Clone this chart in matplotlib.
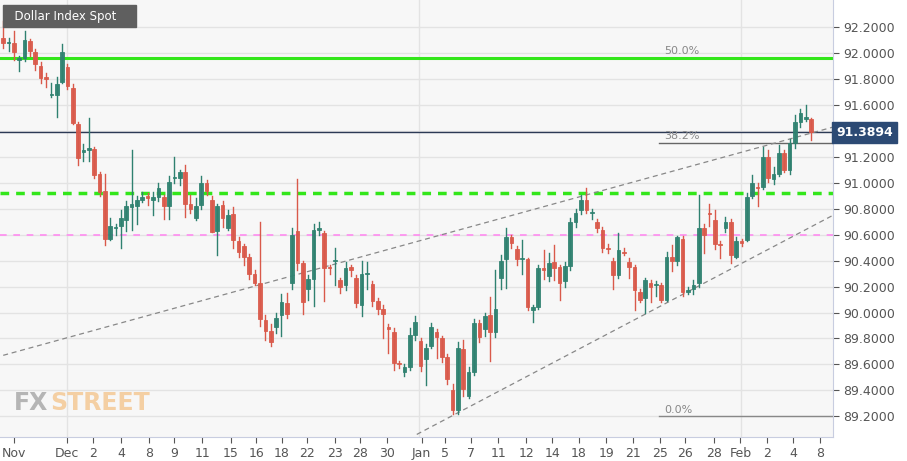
import matplotlib.pyplot as plt
import numpy as np
from matplotlib.patches import Rectangle

# OHLC candles
opens = [92.12, 92.08, 92.08, 91.95, 91.96, 92.09, 92.01, 91.90, 91.82, 91.68,
         91.68, 91.78, 91.89, 91.73, 91.45, 91.24, 91.25, 91.26, 91.07, 90.94,
         90.57, 90.65, 90.67, 90.71, 90.81, 90.82, 90.87, 90.90, 90.87, 90.89,
         90.89, 90.82, 91.04, 91.04, 91.08, 90.84, 90.73, 90.83, 91.00, 90.87,
         90.63, 90.83, 90.65, 90.76, 90.55, 90.51, 90.43, 90.30, 90.23, 89.94,
         89.86, 89.89, 89.98, 90.07, 90.23, 90.63, 90.38, 90.18, 90.26, 90.64,
         90.61, 90.35, 90.40, 90.25, 90.21, 90.35, 90.27, 90.06, 90.30, 90.22,
         90.09, 90.03, 89.89, 89.85, 89.61, 89.54, 89.58, 89.83, 89.78, 89.64,
         89.74, 89.85, 89.80, 89.66, 89.40, 89.25, 89.72, 89.36, 89.54, 89.92,
         89.87, 89.98, 89.85, 90.27, 90.41, 90.58, 90.49, 90.41, 90.41, 90.02,
         90.04, 90.34, 90.28, 90.39, 90.35, 90.24, 90.36, 90.70, 90.79, 90.87,
         90.77, 90.70, 90.64, 90.50, 90.40, 90.29, 90.47, 90.39, 90.35, 90.16,
         90.11, 90.23, 90.21, 90.21, 90.10, 90.43, 90.40, 90.57, 90.16, 90.18,
         90.23, 90.65, 90.77, 90.71, 90.53, 90.65, 90.70, 90.43, 90.55, 90.56,
         90.90, 90.97, 90.97, 91.20, 91.03, 91.07, 91.23, 91.10, 91.31, 91.47,
         91.49, 91.49]
closes = [92.08, 92.08, 92.01, 91.96, 92.10, 92.02, 91.92, 91.81, 91.80, 91.68,
          91.76, 92.01, 91.75, 91.46, 91.19, 91.25, 91.27, 91.06, 90.93, 90.57,
          90.67, 90.65, 90.73, 90.82, 90.84, 90.87, 90.89, 90.88, 90.89, 90.96,
          90.82, 91.01, 91.04, 91.08, 90.84, 90.80, 90.82, 91.00, 90.94, 90.62,
          90.82, 90.73, 90.75, 90.56, 90.47, 90.43, 90.30, 90.23, 89.95, 89.86,
          89.77, 89.96, 90.08, 89.99, 90.60, 90.38, 90.08, 90.26, 90.64, 90.64,
          90.34, 90.34, 90.40, 90.20, 90.34, 90.33, 90.07, 90.30, 90.30, 90.09,
          90.03, 89.99, 89.87, 89.61, 89.60, 89.58, 89.83, 89.93, 89.59, 89.73,
          89.89, 89.81, 89.66, 89.49, 89.25, 89.73, 89.41, 89.54, 89.92, 89.81,
          89.97, 89.85, 90.03, 90.40, 90.58, 90.54, 90.41, 90.41, 90.04, 90.04,
          90.34, 90.33, 90.38, 90.34, 90.23, 90.36, 90.70, 90.77, 90.87, 90.79,
          90.77, 90.65, 90.50, 90.49, 90.29, 90.48, 90.46, 90.35, 90.17, 90.10,
          90.25, 90.20, 90.21, 90.10, 90.43, 90.40, 90.58, 90.16, 90.17, 90.21,
          90.65, 90.60, 90.76, 90.53, 90.52, 90.70, 90.44, 90.55, 90.54, 90.89,
          91.00, 90.96, 91.20, 91.04, 91.07, 91.23, 91.10, 91.31, 91.47, 91.54,
          91.51, 91.3894]
highs = [92.25, 92.12, 92.17, 91.98, 92.17, 92.11, 92.03, 91.93, 91.85, 91.77,
         91.82, 92.07, 91.92, 91.76, 91.47, 91.30, 91.50, 91.28, 91.08, 91.07,
         90.73, 90.68, 90.79, 90.86, 91.25, 90.90, 90.93, 90.92, 90.93, 91.00,
         90.91, 91.05, 91.20, 91.10, 91.14, 90.91, 90.88, 91.05, 91.02, 90.90,
         90.84, 90.86, 90.79, 90.81, 90.58, 90.53, 90.45, 90.33, 90.70, 89.98,
         89.91, 90.00, 90.14, 90.15, 90.65, 91.03, 90.40, 90.29, 90.68, 90.70,
         90.63, 90.37, 90.50, 90.27, 90.39, 90.37, 90.29, 90.40, 90.39, 90.24,
         90.11, 90.06, 89.91, 89.88, 89.63, 89.60, 89.88, 89.97, 89.80, 89.76,
         89.92, 89.87, 89.82, 89.68, 89.45, 89.77, 89.79, 89.58, 89.95, 89.94,
         90.00, 90.12, 90.33, 90.44, 90.65, 90.60, 90.51, 90.56, 90.42, 90.06,
         90.37, 90.48, 90.46, 90.52, 90.37, 90.39, 90.73, 90.80, 90.91, 90.96,
         90.80, 90.72, 90.66, 90.53, 90.42, 90.61, 90.50, 90.42, 90.37, 90.18,
         90.27, 90.25, 90.24, 90.23, 90.47, 90.52, 90.59, 90.59, 90.20, 90.25,
         90.91, 90.68, 90.84, 90.79, 90.55, 90.74, 90.72, 90.58, 90.57, 90.92,
         91.06, 91.00, 91.28, 91.25, 91.12, 91.29, 91.25, 91.34, 91.52, 91.57,
         91.60, 91.50]
lows = [92.04, 92.02, 91.95, 91.86, 91.94, 91.98, 91.87, 91.77, 91.74, 91.66,
        91.51, 91.77, 91.72, 91.45, 91.14, 91.17, 91.17, 91.04, 90.90, 90.52,
        90.56, 90.60, 90.50, 90.63, 90.64, 90.68, 90.85, 90.83, 90.75, 90.86,
        90.72, 90.72, 91.00, 90.98, 90.74, 90.77, 90.71, 90.80, 90.91, 90.62,
        90.44, 90.66, 90.64, 90.50, 90.43, 90.37, 90.26, 90.21, 89.90, 89.79,
        89.74, 89.84, 89.82, 89.96, 90.18, 90.33, 89.99, 90.10, 90.05, 90.60,
        90.09, 90.30, 90.21, 90.15, 90.17, 90.28, 90.04, 89.97, 90.18, 90.05,
        89.99, 89.80, 89.69, 89.56, 89.57, 89.51, 89.56, 89.79, 89.55, 89.44,
        89.73, 89.65, 89.62, 89.45, 89.22, 89.22, 89.36, 89.34, 89.52, 89.77,
        89.82, 89.63, 89.81, 90.18, 90.19, 90.50, 90.37, 90.30, 90.02, 89.93,
        90.03, 90.26, 90.24, 90.25, 90.10, 90.20, 90.33, 90.66, 90.76, 90.77,
        90.72, 90.62, 90.47, 90.46, 90.18, 90.27, 90.44, 90.27, 90.02, 90.08,
        90.00, 90.08, 90.13, 90.08, 90.09, 90.32, 90.37, 90.13, 90.14, 90.14,
        90.20, 90.46, 90.67, 90.49, 90.42, 90.62, 90.38, 90.42, 90.51, 90.55,
        90.88, 90.82, 90.95, 91.01, 90.99, 91.05, 91.08, 91.07, 91.27, 91.43,
        91.48, 91.33]

tick_pos = [2, 12, 16.8, 22, 27.2, 32, 37.2, 42.5, 47.3, 52.1, 56.8, 62, 66.7, 71.7,
            78.2, 82.5, 87.5, 92.5, 97.8, 102.6, 107.6, 112.7, 117.7, 122.7, 127.4,
            132.8, 137.8, 142.8, 147.7, 152.7]
tick_labels = ["Nov", "Dec", "2", "4", "8", "9", "11", "15", "16", "18", "22", "23",
               "28", "30", "Jan", "5", "7", "11", "12", "14", "18", "19", "21", "25",
               "26", "28", "Feb", "2", "4", "8"]
month_lines = [11.9, 77.8, 137.9]
y_ticks = [89.2, 89.4, 89.6, 89.8, 90.0, 90.2, 90.4, 90.6, 90.8, 91.0,
           91.2, 91.4, 91.6, 91.8, 92.0, 92.2]

level_green = 91.965
level_green_dash = 90.92
level_pink = 90.595
fib_382 = 91.31
fib_0 = 89.2
last_price = 91.3894
upper_trend = ([0, 155.1], [89.67, 91.43])
lower_trend = ([77.3, 155.1], [89.06, 90.75])

GREEN = "#2f8170"
RED = "#d9594a"

fig = plt.figure(figsize=(9.07, 4.61), dpi=100)
ax = fig.add_axes([0, 0.052, 833 / 907, 0.948])
ax.set_facecolor("#f7f7f7")
xmin, xmax = -0.6, 155.1
ax.set_xlim(xmin, xmax)
ax.set_ylim(89.04, 92.41)

for y in y_ticks:
    ax.axhline(y, color="#e3e3e3", lw=1, zorder=0)
for x in month_lines:
    ax.axvline(x, color="#e3e3e3", lw=1, zorder=0)

for i, (o, c, h, l) in enumerate(zip(opens, closes, highs, lows)):
    col = GREEN if c >= o else RED
    ax.plot([i, i], [l, h], color=col, lw=1, zorder=3)
    bot, top = min(o, c), max(o, c)
    ax.add_patch(Rectangle((i - 0.34, bot), 0.68, max(top - bot, 0.008),
                           facecolor=col, edgecolor=col, lw=0.6, alpha=0.95, zorder=4))

ax.axhline(level_green, color="#33e61a", lw=2.2, zorder=2)
ax.axhline(level_green_dash, color="#33e61a", lw=2.5, ls=(0, (2.5, 2)), zorder=2)
ax.axhline(level_pink, color="#ff8cf0", lw=1.2, ls=(0, (4, 4)), zorder=2)
ax.axhline(last_price, color="#2c3a55", lw=1, zorder=2)
ax.plot([122.5, xmax], [fib_382, fib_382], color="#666666", lw=1, zorder=2)
ax.plot([122.5, xmax], [fib_0, fib_0], color="#888888", lw=1, zorder=2)
ax.text(123.5, 91.335, "38.2%", fontsize=8, color="#888888")
ax.text(123.5, 89.225, "0.0%", fontsize=8, color="#888888")
ax.text(123.5, 91.99, "50.0%", fontsize=8, color="#888888")

ax.plot(*upper_trend, color="#888888", lw=0.9, ls=(0, (4, 3)), zorder=2)
ax.plot(*lower_trend, color="#888888", lw=0.9, ls=(0, (4, 3)), zorder=2)

ax.yaxis.tick_right()
ax.set_yticks(y_ticks)
# the 91.4 label sits under the last-price box, as in the source chart
ax.set_yticklabels(["" if v == 91.4 else f"{v:.4f}" for v in y_ticks])
ax.tick_params(axis="y", length=4, colors="#555555", labelsize=9)
ax.set_xticks(tick_pos)
ax.set_xticklabels(tick_labels)
ax.tick_params(axis="x", length=4, colors="#555555", labelsize=9)
for s in ["top", "left"]:
    ax.spines[s].set_visible(False)
ax.spines["right"].set_color("#c8cde0")
ax.spines["bottom"].set_color("#c8cde0")

ax.text(xmax + 0.6, last_price, "91.3894", fontsize=9, fontweight="bold", color="white",
        va="center", ha="left",
        bbox=dict(boxstyle="square,pad=0.3", facecolor="#2c4a74", edgecolor="#2c4a74"))

fig.text(0.008, 0.965, "  Dollar Index Spot    ", fontsize=8.5, color="white", va="center",
         bbox=dict(boxstyle="square,pad=0.4", facecolor="#5f5f5f", edgecolor="#5f5f5f"))
fig.text(0.015, 0.11, "FX", fontsize=17, color="#b5b5b5", fontweight="bold")
fig.text(0.055, 0.11, "STREET", fontsize=17, color="#f4cfa3", fontweight="bold")

fig.savefig("out.png", dpi=100)
